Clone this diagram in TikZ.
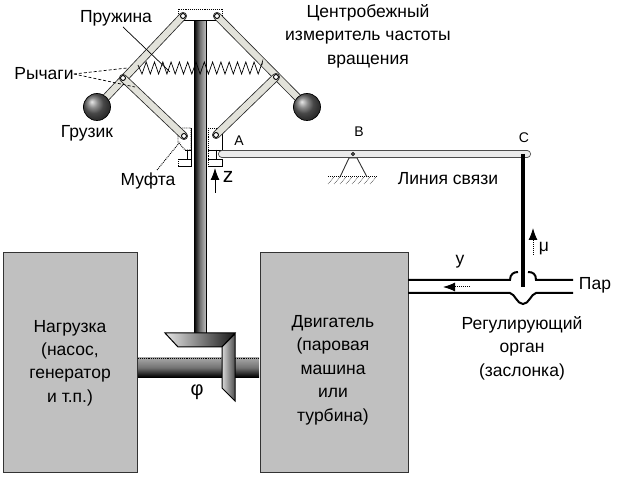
\documentclass[tikz,border=0pt]{standalone}
\usepackage{fontspec}
\setmainfont{Liberation Sans}
\usetikzlibrary{arrows.meta}
\definecolor{blk}{HTML}{C0C0C0}
\definecolor{arm}{HTML}{E2E2DA}
\tikzset{
 lbl/.style={inner sep=0pt,align=center,font=\fontsize{17.5}{23.4}\selectfont},
 block/.style={fill=blk,draw=black!80,line width=.9pt},
 armbar/.style={line width=8pt,draw=black!85,line cap=round},
 arminner/.style={line width=6.4pt,draw=arm,line cap=round},
 part/.style={fill=white,draw=black,line width=.9pt,densely dotted},
 partsolid/.style={draw=black,line width=.9pt},
 pivot/.style={circle,draw=black,fill=white,line width=.9pt,minimum size=5pt,inner sep=0pt},
 leader/.style={draw=black,line width=.7pt},
 dotlead/.style={draw=black,line width=.9pt,densely dotted},
 pipe/.style={draw=black,line width=2pt},
 ball/.style={circle,draw=black,line width=.7pt,shade,ball color=black!60,minimum size=27pt,inner sep=0pt},
 tip/.style={-{Latex[length=12pt,width=9pt]},draw=black,line width=1pt}
}
\begin{document}
\begin{tikzpicture}[x=1pt,y=-1pt]
\useasboundingbox (0,0) rectangle (624,486);
\fill[white] (0,0) rectangle (624,486);
% blocks
\node[block,minimum width=134pt,minimum height=220pt,inner sep=0pt] (load) at (70,362) {};
\node[block,minimum width=148pt,minimum height=220pt,inner sep=0pt] (engine) at (334,362) {};
% horizontal shaft
\shade[top color=black!35,bottom color=black,middle color=black!55] (138,358) rectangle (259,377);
\draw[densely dotted,line width=.9pt] (138,358) -- (259,358) (138,377) -- (259,377);
% vertical shaft
\shade[left color=black,right color=black!25,middle color=black!55] (194,20) rectangle (206,334);
\draw[line width=.9pt] (194,20) -- (194,334) (206,20) -- (206,334);
% gears
\shade[left color=black!10,right color=black!90,draw=black,line width=1pt] (165,333) -- (235,333) -- (222,347) -- (178,347) -- cycle;
\shade[left color=black!15,right color=black!70,draw=black,line width=1pt] (235,334) -- (235,401) -- (222,388) -- (222,347) -- cycle;
\coordinate (pL) at (183,16); \coordinate (pR) at (217,16);
\coordinate (ballL) at (97,107); \coordinate (ballR) at (307,107);
\coordinate (eL) at (123,78); \coordinate (eR) at (276,77);
\coordinate (mL) at (184,136); \coordinate (mR) at (216,135);
% top plate
\draw[part] (178,9) rectangle (222,20);
\draw[partsolid] (178,20) -- (222,20);
% muffs
\draw[part] (178,128) -- (191,128) -- (191,150) -- (185,150) -- (178,142) -- cycle;
\draw[partsolid] (191,128) -- (191,166) -- (178,166);
\draw[partsolid] (187,150) -- (187,159) (178,159) -- (191,159) (185,150) -- (191,150);
\draw[part] (178,159) -- (178,166);
\draw[part] (208,128) -- (222,128);
\draw[part] (208,128) -- (208,166);
\draw[partsolid] (222,128) -- (222,150) (208,150) -- (222,150) (208,159) -- (222,159) -- (222,166) -- (208,166) (216,150) -- (216,159);
% lever
\coordinate (leverL) at (222,154); \coordinate (leverR) at (527,154);
\draw[line width=8pt,draw=black!70,line cap=round] (leverL) -- (leverR);
\draw[line width=6.4pt,draw=white!92!black,line cap=round] (leverL) -- (leverR);
% arms
\foreach \a/\b in {pL/ballL,pR/ballR,eL/mL,eR/mR}{
 \draw[armbar] (\a) -- (\b);
 \draw[arminner] (\a) -- (\b);
}
\node[ball] (bL) at (ballL) {};
\node[ball] (bR) at (ballR) {};
\foreach \n/\c in {a/pL,b/pR,c/eL,d/eR,e/mL,f/mR}{\node[pivot] (piv\n) at (\c) {};}
% spring
\draw[black,line width=.7pt] (138,65)
 \foreach \x in {0,1,...,14}{ -- ({142+\x*8.3},{74}) -- ({146.2+\x*8.3},{62}) } -- (262,65);
% support
\coordinate (sA) at (353,154);
\draw[line width=.9pt,black!80] (340,177) -- (349,158) -- (357,158) -- (367,177);
\draw[line width=1pt,densely dotted] (328,177) -- (377,177);
\foreach \x in {328,334,...,372}{\draw[line width=.6pt,densely dotted] (\x,184) -- (\x+6,177);}
\node[pivot,minimum size=3pt] (sB) at (sA) {};
% link rod
\coordinate (rodT) at (523,154); \coordinate (rodB) at (523,287);
% pipe
\draw[pipe] (408,280) -- (510,280) .. controls (510,274) and (514,272) .. (518,272);
\draw[pipe] (528,272) .. controls (533,272) and (536,274) .. (536,280) -- (573,280);
\draw[pipe] (408,293) -- (510,293) .. controls (515,294) and (517,304) .. (523,304) .. controls (529,304) and (531,294) .. (536,293) -- (573,293);
\draw[line width=3.5pt,black] (rodT) -- (rodB);
% arrows
\coordinate (muA) at (533,255); \coordinate (muB) at (533,228);
\draw[tip,densely dotted] (muA) -- (muB);
\coordinate (yA) at (470,287); \coordinate (yB) at (443,287);
\draw[tip,densely dotted] (yA) -- (yB);
\coordinate (zA) at (215,193); \coordinate (zB) at (215,168);
\draw[tip] (zA) -- (zB);
% labels
\node[lbl] (t1) at (368,36) {Центробежный\\измеритель частоты\\вращения};
\node[lbl] (t2) at (116,18) {Пружина};
\node[lbl] (t3) at (44,74) {Рычаги};
\node[lbl] (t4) at (87,133) {Грузик};
\node[lbl] (t5) at (148,181) {Муфта};
\node[lbl] (t6) at (448,179) {Линия связи};
\node[lbl,font=\fontsize{14}{16}\selectfont] (tA) at (239,141) {A};
\node[lbl,font=\fontsize{14}{16}\selectfont] (tB) at (359,132) {B};
\node[lbl,font=\fontsize{14}{16}\selectfont] (tC) at (524,138) {C};
\node[lbl,font=\fontsize{21}{23}\selectfont] (tz) at (228,177) {z};
\node[lbl] (ty) at (460,262) {y};
\node[lbl] (tmu) at (544,249) {μ};
\node[lbl] (tpar) at (595,285) {Пар};
\node[lbl,font=\fontsize{20}{23}\selectfont] (tphi) at (197,392) {φ};
\node[lbl] (tload) at (70,363) {Нагрузка\\(насос,\\генератор\\и т.п.)};
\node[lbl] (teng) at (333,370) {Двигатель\\(паровая\\машина\\или\\турбина)};
\node[lbl] (treg) at (522,348) {Регулирующий\\орган\\(заслонка)};
% leaders
\coordinate (l0) at (123,27); \coordinate (l1) at (170,72);
\draw[leader] (l0) -- (l1);
\coordinate (l2) at (127,68); \coordinate (l3) at (135,87);
\draw[leader,densely dashed] (t3.east) -- (l2);
\draw[leader,densely dashed] (t3.east) -- (l3);
\coordinate (l4) at (180,142); \coordinate (l5) at (157,170);
\draw[dotlead] (l5) -- (l4);
\end{tikzpicture}
\end{document}
